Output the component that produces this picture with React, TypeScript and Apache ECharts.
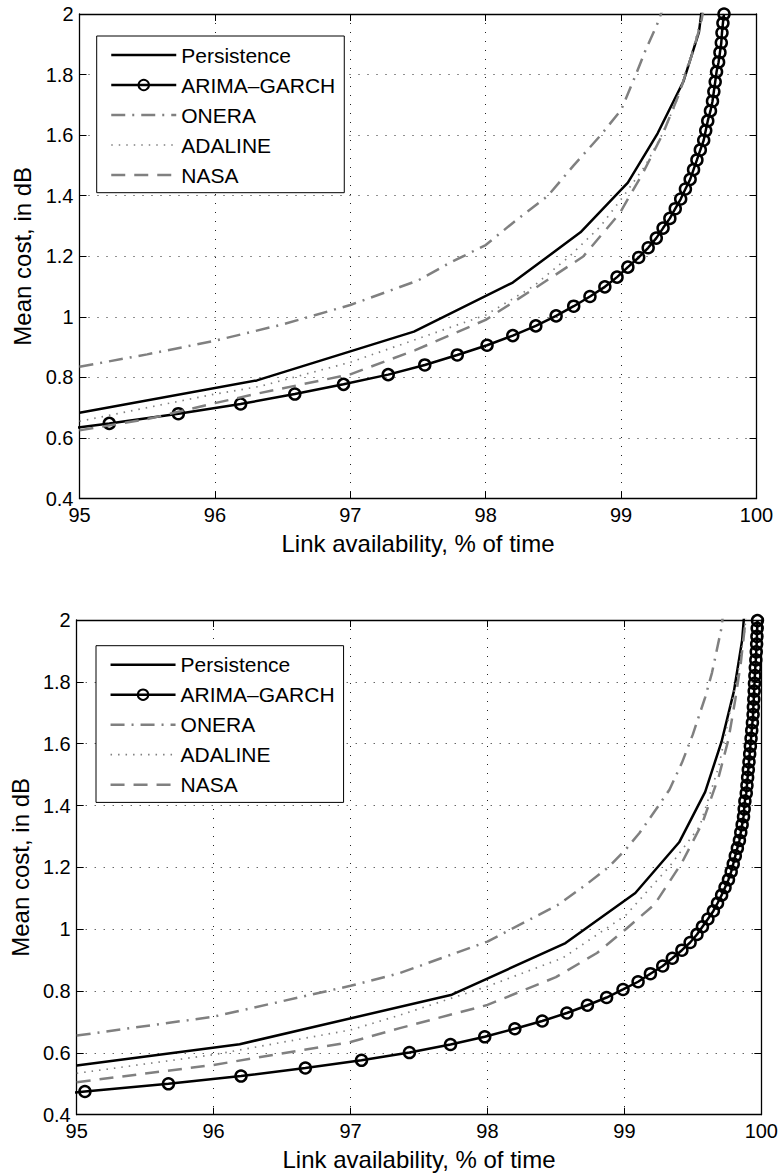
import React, { useEffect, useRef } from "react";
import * as echarts from "echarts";

// ---------- data ----------
const seriesNames = ["Persistence", "ARIMA–GARCH", "ONERA", "ADALINE", "NASA"];
const xRange = [95, 100];
const yRange = [0.4, 2];
const xTitle = "Link availability, % of time";
const yTitle = "Mean cost, in dB";

// Top panel
const persistenceTop = [[95, 0.683], [96.31, 0.79], [97.47, 0.951], [98.2, 1.113], [98.7, 1.279], [99.05, 1.443], [99.27, 1.606], [99.46, 1.777], [99.575, 1.94], [99.62, 2.1]];
const arimaTop = [[94.68, 0.616], [95.22, 0.648], [95.73, 0.68], [96.19, 0.712], [96.59, 0.745], [96.95, 0.777], [97.28, 0.809], [97.55, 0.841], [97.79, 0.874], [98.01, 0.906], [98.2, 0.938], [98.37, 0.97], [98.52, 1.003], [98.65, 1.035], [98.77, 1.067], [98.88, 1.099], [98.97, 1.131], [99.05, 1.164], [99.13, 1.196], [99.2, 1.228], [99.26, 1.26], [99.31, 1.293], [99.36, 1.325], [99.4, 1.357], [99.44, 1.389], [99.475, 1.422], [99.51, 1.454], [99.535, 1.486], [99.56, 1.518], [99.585, 1.551], [99.61, 1.583], [99.625, 1.615], [99.64, 1.647], [99.66, 1.68], [99.675, 1.712], [99.685, 1.744], [99.695, 1.776], [99.705, 1.809], [99.72, 1.841], [99.73, 1.873], [99.74, 1.905], [99.745, 1.938], [99.752, 1.97], [99.76, 2.0]];
const oneraTop = [[95, 0.835], [95.5, 0.876], [96, 0.921], [96.5, 0.975], [97, 1.039], [97.5, 1.12], [97.73, 1.177], [98, 1.237], [98.2, 1.31], [98.46, 1.4], [98.65, 1.5], [98.85, 1.6], [99.0, 1.683], [99.1, 1.79], [99.18, 1.88], [99.27, 1.97], [99.31, 2.02]];
const adalineTop = [[95, 0.655], [96, 0.745], [96.33, 0.77], [97, 0.85], [97.47, 0.923], [98, 1.006], [98.35, 1.1], [98.62, 1.2], [98.85, 1.3], [99.02, 1.4], [99.18, 1.5], [99.3, 1.6], [99.4, 1.7], [99.47, 1.8], [99.54, 1.9], [99.6, 2.0]];
const nasaTop = [[95, 0.625], [95.5, 0.662], [96, 0.715], [96.33, 0.748], [97, 0.81], [97.48, 0.89], [98, 0.99], [98.4, 1.105], [98.72, 1.199], [98.99, 1.342], [99.16, 1.474], [99.31, 1.606], [99.43, 1.738], [99.52, 1.861], [99.59, 1.969], [99.61, 2.02]];

// Bottom panel
const persistenceBot = [[95, 0.559], [96.19, 0.628], [97.74, 0.788], [98.57, 0.955], [99.08, 1.117], [99.4, 1.281], [99.59, 1.444], [99.71, 1.607], [99.8, 1.77], [99.86, 1.935], [99.89, 2.1]];
const arimaBot = [[94.45, 0.45], [95.06, 0.475], [95.67, 0.5], [96.2, 0.525], [96.67, 0.551], [97.08, 0.576], [97.43, 0.601], [97.73, 0.627], [97.98, 0.652], [98.2, 0.678], [98.4, 0.703], [98.58, 0.729], [98.73, 0.754], [98.87, 0.779], [98.99, 0.805], [99.1, 0.83], [99.19, 0.856], [99.28, 0.881], [99.35, 0.906], [99.42, 0.932], [99.48, 0.957], [99.53, 0.983], [99.57, 1.008], [99.61, 1.033], [99.65, 1.059], [99.68, 1.084], [99.71, 1.11], [99.735, 1.135], [99.76, 1.16], [99.78, 1.186], [99.795, 1.211], [99.81, 1.237], [99.825, 1.262], [99.84, 1.287], [99.85, 1.313], [99.86, 1.338], [99.87, 1.364], [99.875, 1.389], [99.88, 1.414], [99.89, 1.44], [99.895, 1.465], [99.9, 1.491], [99.905, 1.516], [99.91, 1.541], [99.915, 1.567], [99.92, 1.592], [99.925, 1.617], [99.93, 1.643], [99.935, 1.668], [99.94, 1.694], [99.942, 1.719], [99.945, 1.744], [99.948, 1.77], [99.95, 1.795], [99.953, 1.82], [99.956, 1.846], [99.96, 1.871], [99.963, 1.897], [99.966, 1.922], [99.968, 1.947], [99.97, 1.973], [99.972, 1.998]];
const oneraBot = [[95, 0.656], [96, 0.717], [97, 0.817], [97.36, 0.858], [98, 0.96], [98.52, 1.08], [98.72, 1.144], [98.89, 1.203], [99.01, 1.258], [99.11, 1.311], [99.23, 1.387], [99.33, 1.452], [99.42, 1.538], [99.5, 1.63], [99.59, 1.75], [99.64, 1.83], [99.71, 1.976], [99.72, 2.02]];
const adalineBot = [[95, 0.534], [96, 0.594], [97, 0.674], [97.36, 0.722], [98, 0.815], [98.55, 0.907], [99.01, 1.045], [99.33, 1.203], [99.55, 1.333], [99.69, 1.527], [99.76, 1.679], [99.83, 1.83], [99.88, 1.97], [99.89, 2.02]];
const nasaBot = [[95, 0.505], [96, 0.561], [97, 0.635], [97.36, 0.68], [98, 0.755], [98.5, 0.845], [98.8, 0.923], [99.01, 1.0], [99.22, 1.08], [99.42, 1.215], [99.57, 1.344], [99.69, 1.495], [99.76, 1.614], [99.81, 1.743], [99.85, 1.86], [99.88, 1.98], [99.89, 2.02]];

const panels = [
  [persistenceTop, arimaTop, oneraTop, adalineTop, nasaTop],
  [persistenceBot, arimaBot, oneraBot, adalineBot, nasaBot],
];

// ---------- styles ----------
const FONT = "'Liberation Sans', Arial, Helvetica, sans-serif";
const GRAY = "#808080";
const styles = [
  { color: "#000", width: 2.5, type: "solid" as any, marker: false },
  { color: "#000", width: 2.5, type: "solid" as any, marker: true },
  { color: GRAY, width: 2.5, type: [14, 7, 2, 7] as any, marker: false },
  { color: GRAY, width: 1.7, type: [1.5, 6] as any, marker: false },
  { color: GRAY, width: 2.5, type: [14, 9] as any, marker: false },
];

const grids = [
  { left: 79.5, top: 14, width: 677, height: 484.5 },
  { left: 76.7, top: 620, width: 686, height: 494.7 },
];
const legendPos = [
  { left: 96.7, top: 36 },
  { left: 96, top: 645.7 },
];

function buildOption() {
  const xAxis: any[] = [];
  const yAxis: any[] = [];
  const series: any[] = [];
  const legend: any[] = [];
  grids.forEach((g, gi) => {
    const tick = { show: true, inside: true, length: 7, lineStyle: { color: "#000", width: 1 } };
    const axLine = { show: true, onZero: false, lineStyle: { color: "#000", width: 1.3 } };
    const split = { show: true, lineStyle: { color: "#222", width: 1, type: [1, 8] } };
    xAxis.push({
      type: "value", gridIndex: gi, position: "bottom", min: xRange[0], max: xRange[1], interval: 1,
      axisLine: axLine, axisTick: tick, splitLine: split,
      axisLabel: { color: "#000", fontSize: 20, fontFamily: FONT, margin: 6 },
      name: xTitle, nameLocation: "middle", nameGap: 33,
      nameTextStyle: { color: "#000", fontSize: 24, fontFamily: FONT },
    });
    xAxis.push({
      type: "value", gridIndex: gi, position: "top", min: xRange[0], max: xRange[1], interval: 1,
      axisLine: axLine, axisTick: tick, splitLine: { show: false }, axisLabel: { show: false },
    });
    yAxis.push({
      type: "value", gridIndex: gi, position: "left", min: yRange[0], max: yRange[1], interval: 0.2,
      axisLine: axLine, axisTick: tick, splitLine: split,
      axisLabel: { color: "#000", fontSize: 20, fontFamily: FONT, margin: 6 },
      name: yTitle, nameLocation: "middle", nameGap: 44,
      nameTextStyle: { color: "#000", fontSize: 24, fontFamily: FONT },
    });
    yAxis.push({
      type: "value", gridIndex: gi, position: "right", min: yRange[0], max: yRange[1], interval: 0.2,
      axisLine: axLine, axisTick: tick, splitLine: { show: false }, axisLabel: { show: false },
    });
    panels[gi].forEach((data, si) => {
      const st = styles[si];
      series.push({
        type: "line",
        name: seriesNames[si],
        xAxisIndex: gi * 2,
        yAxisIndex: gi * 2,
        data,
        clip: true,
        smooth: false,
        symbol: st.marker ? "circle" : "none",
        symbolSize: 11,
        showSymbol: st.marker,
        lineStyle: { color: st.color, width: st.width, type: st.type, cap: "butt" },
        itemStyle: st.marker
          ? { color: "rgba(255,255,255,0)", borderColor: "#000", borderWidth: 2.5 }
          : { color: st.color },
        emphasis: { disabled: true },
        z: 2 + si,
      });
    });
    legend.push({
      show: true,
      orient: "vertical",
      left: legendPos[gi].left,
      top: legendPos[gi].top,
      data: seriesNames.map((name, si) =>
        styles[si].marker
          ? { name }
          : { name, itemStyle: { color: "rgba(0,0,0,0)", borderWidth: 0, opacity: 0 } }
      ),
      itemWidth: 65,
      itemHeight: 13,
      itemGap: 8,
      padding: [8, 9, 6.7, 13.3],
      backgroundColor: "#fff",
      borderColor: "#000",
      borderWidth: 1,
      borderRadius: 0,
      selectedMode: false,
      textStyle: { color: "#000", fontSize: 21, fontFamily: FONT, lineHeight: 22 },
      lineStyle: { width: "inherit", type: "inherit" },
      z: 10,
    });
  });
  return {
    animation: false,
    backgroundColor: "#fff",
    grid: grids.map((g) => ({ ...g, containLabel: false, show: false })),
    xAxis,
    yAxis,
    legend,
    series,
  };
}

export default function App() {
  const ref = useRef<HTMLDivElement>(null);
  useEffect(() => {
    const chart = echarts.init(ref.current as HTMLDivElement, null, { renderer: "svg" });
    chart.setOption(buildOption() as any);
    return () => chart.dispose();
  }, []);
  return (
    <div
      ref={ref}
      style={{ position: "absolute", left: 0, top: 0, width: 781, height: 1176, background: "#fff" }}
    />
  );
}
